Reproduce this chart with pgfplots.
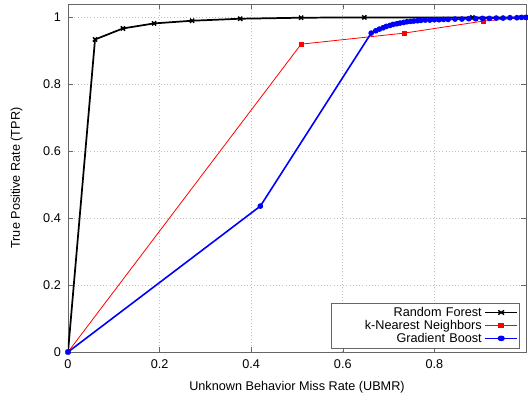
\documentclass[border=0pt]{standalone}
\usepackage{fontspec}
\setmainfont{Liberation Sans}
\usepackage{pgfplots}
\pgfplotsset{compat=1.18}

\begin{document}
\fontsize{9.5}{11}\selectfont
\begin{tikzpicture}
\useasboundingbox (-51pt,-36pt) rectangle (345pt,264pt);
\begin{axis}[
    at={(0,0)}, anchor=south west,
    scale only axis,
    width=343.5pt, height=261pt,
    xmin=0, xmax=1, ymin=0, ymax=1.04,
    xtick={0,0.2,0.4,0.6,0.8},
    ytick={0,0.2,0.4,0.6,0.8,1},
    /pgf/number format/assume math mode=true,
    ticklabel style={font=\fontsize{9.5}{11}\selectfont},
    xticklabel style={yshift=-2pt},
    yticklabel style={xshift=-2pt},
    tick align=inside,
    major tick length=4pt,
    axis line style={gray!80!black, line width=0.6pt},
    tick style={gray!80!black},
    grid=major,
    grid style={gray!50, dotted, line width=0.5pt},
    xlabel={Unknown Behavior Miss Rate (UBMR)},
    ylabel={True Positive Rate (TPR)},
    xlabel style={yshift=-3pt},
    ylabel style={yshift=9pt},
    legend style={at={(0.986,0.011)}, anchor=south east, draw=gray!80!black,
        font=\fontsize{9.5}{10.5}\selectfont, inner sep=1pt, row sep=-2.6pt,
        nodes={text width=110pt, align=right, inner xsep=2pt}},
    legend cell align=right,
    legend plot pos=right,
    legend image post style={xscale=1.4},
]
\addplot[black, line width=1.3pt, mark=x, mark size=2.2pt, mark options={line width=1.1pt}]
coordinates {(0,0) (0.059,0.934) (0.12,0.967) (0.188,0.982) (0.271,0.99) (0.376,0.996)
 (0.509,0.999) (0.647,1.0) (0.883,1.0) (1.0,1.0)};
\addlegendentry{Random Forest}
\addplot[red, line width=0.6pt, mark=square*, mark size=1.4pt]
coordinates {(0,0) (0.509,0.92) (0.734,0.953) (0.907,0.989) (1.0,1.0)};
\addlegendentry{k-Nearest Neighbors}
\addplot[blue, line width=1.2pt, mark=*, mark size=1.5pt]
coordinates {(0,0) (0.42,0.436) (0.662,0.953) (0.672,0.96) (0.68,0.965) (0.688,0.969)
 (0.695,0.973) (0.703,0.976) (0.71,0.979) (0.718,0.981) (0.725,0.983) (0.733,0.985)
 (0.74,0.987) (0.748,0.988) (0.755,0.989) (0.763,0.99) (0.77,0.991) (0.78,0.992)
 (0.79,0.992) (0.80,0.993) (0.81,0.993) (0.82,0.994) (0.83,0.994) (0.845,0.995)
 (0.86,0.995) (0.875,0.996) (0.89,0.996) (0.905,0.997) (0.92,0.997) (0.935,0.998)
 (0.95,0.998) (0.965,0.999) (0.98,0.999) (0.99,1.0) (1.0,1.0)};
\addlegendentry{Gradient Boost}
\end{axis}
\end{tikzpicture}
\end{document}
